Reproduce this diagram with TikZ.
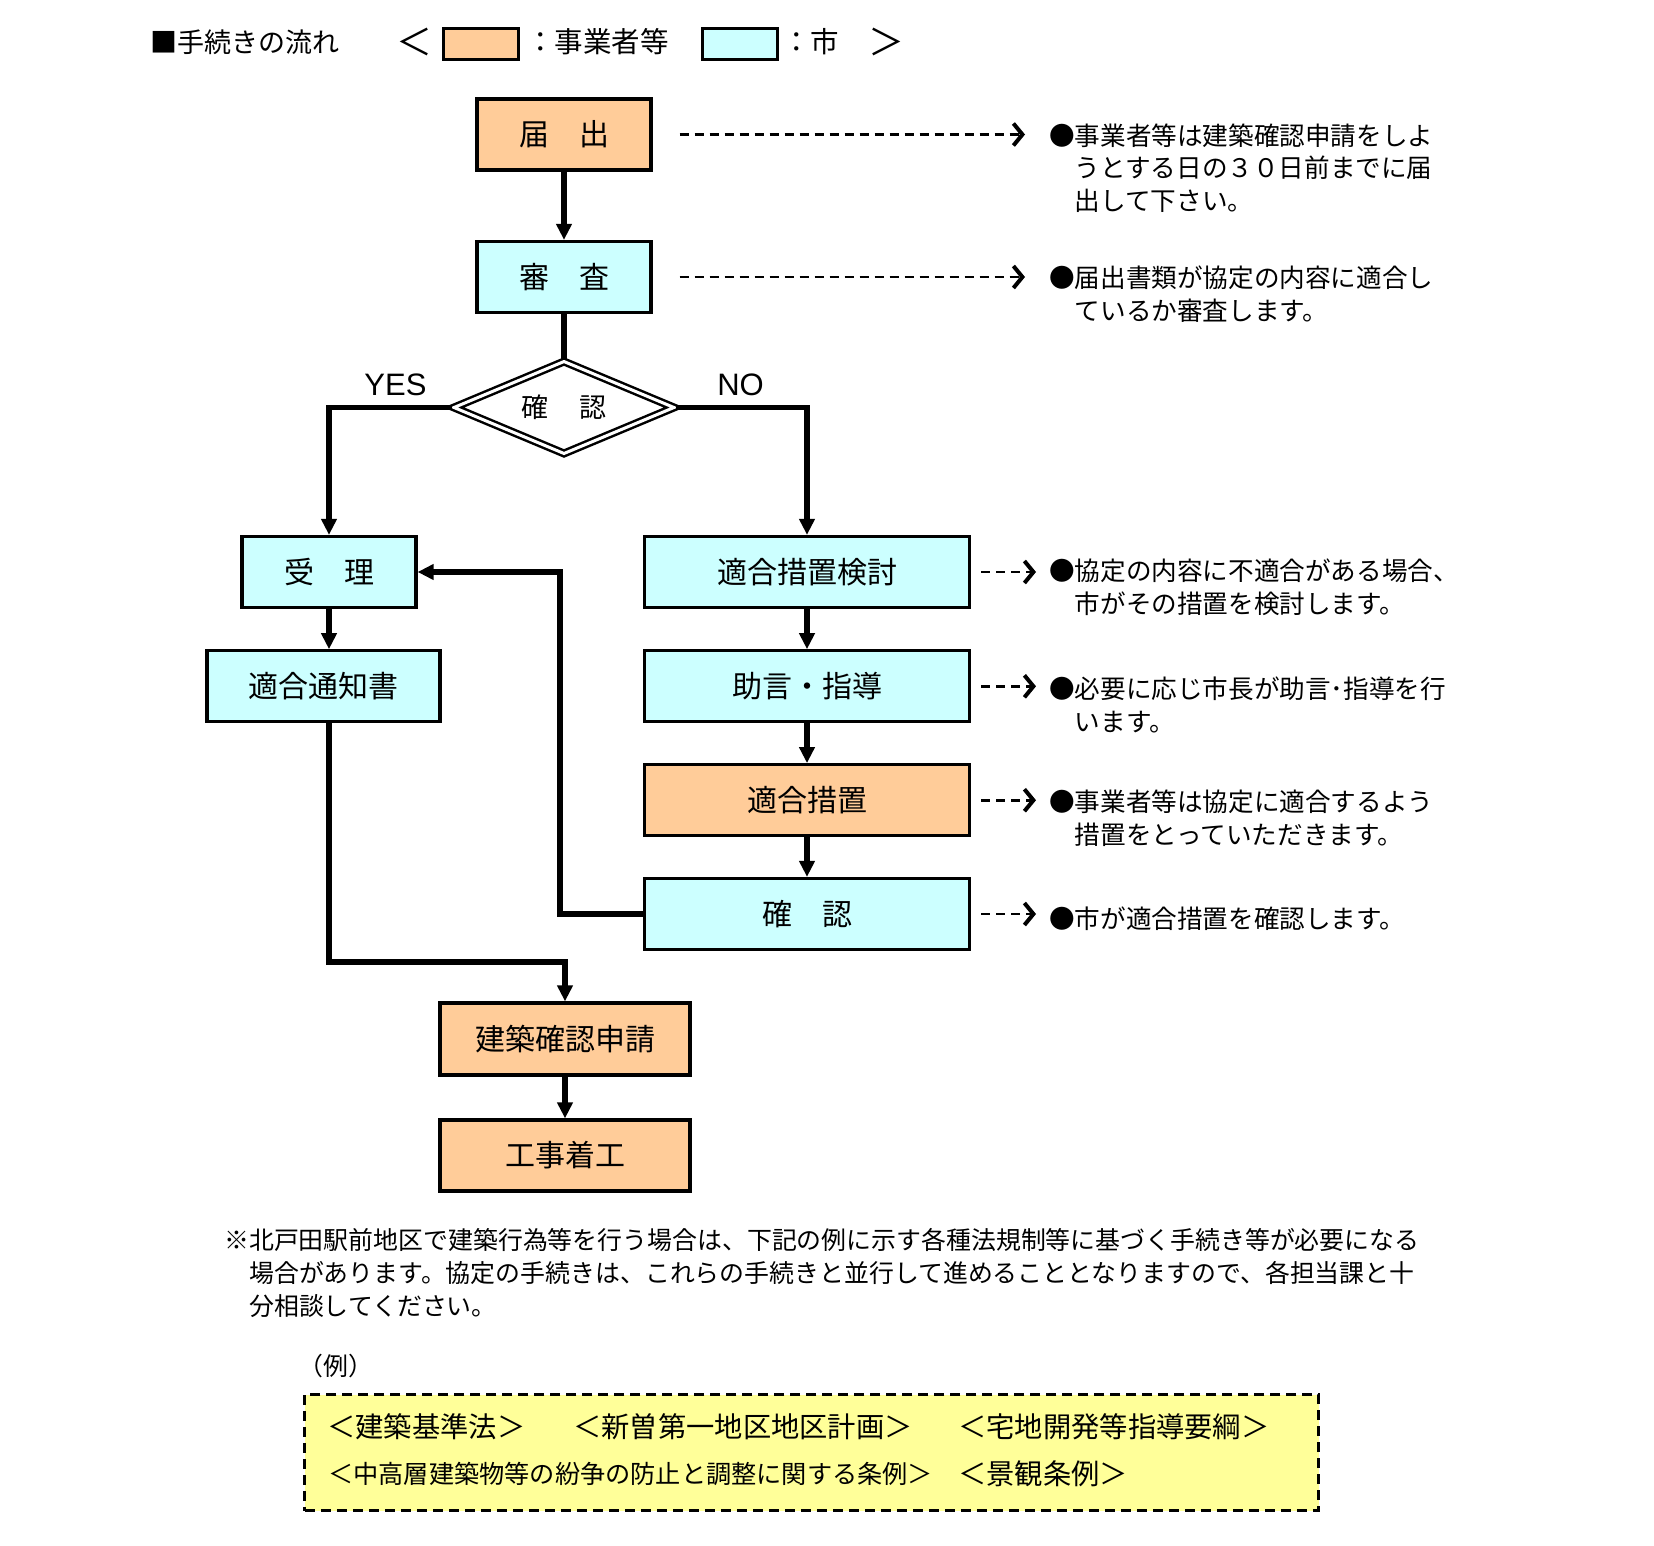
\documentclass[tikz,border=0pt]{standalone}
\usepackage{fontspec}
\setmainfont{Noto Sans CJK JP}
\newfontfamily\latinsans{Liberation Sans}
\usetikzlibrary{arrows.meta,shapes.geometric,calc}
\definecolor{bizorange}{RGB}{255,204,153}
\definecolor{citycyan}{RGB}{204,255,255}
\definecolor{noteyellow}{RGB}{255,255,153}
\begin{document}
\begin{tikzpicture}[x=1pt,y=-1pt,
  flowbox/.style={draw, line width=3.2pt, inner sep=0pt, minimum height=71pt, font=\fontsize{30}{36}\selectfont},
  biz/.style={flowbox, fill=bizorange},
  city/.style={flowbox, fill=citycyan},
  conn/.style={line width=5.2pt},
  arr/.style={conn, -{Triangle[length=16pt,width=15pt]}},
  darr/.style={line width=2.9pt, dash pattern=on 9pt off 6pt, -{Straight Barb[length=9pt,width=22pt,line width=4pt]}},
  desc/.style={anchor=base west, inner sep=0pt, font=\fontsize{25.6}{30}\selectfont},
  hdr/.style={anchor=base west, inner sep=0pt, font=\fontsize{27}{32}\selectfont},
  hdrleg/.style={anchor=base west, inner sep=0pt, font=\fontsize{28.5}{32}\selectfont},
  hdrc/.style={anchor=center, inner sep=0pt, font=\fontsize{36}{40}\selectfont},
  notetxt/.style={anchor=base west, inner sep=0pt, font=\fontsize{24.9}{30}\selectfont},
  itema/.style={anchor=base west, inner sep=0pt, font=\fontsize{28.3}{32}\selectfont},
  itemb/.style={anchor=base west, inner sep=0pt, font=\fontsize{25.2}{30}\selectfont},
  yesno/.style={anchor=center, inner sep=0pt, font=\latinsans\fontsize{31}{36}\selectfont},
  legbox/.style={draw, line width=3pt, minimum width=75pt, minimum height=30.5pt, inner sep=0pt}
]
\useasboundingbox (0,0) rectangle (1654,1545);

% header
\node[hdr] (h1) at (150,52) {■手続きの流れ};
\node[hdrc] (h2) at (414.5,42) {＜};
\node[legbox, fill=bizorange] (lg1) at (480.5,43.75) {};
\node[hdrleg] (h3) at (526,52.5) {：事業者等};
\node[legbox, fill=citycyan] (lg2) at (739.5,43.75) {};
\node[hdrleg] (h4) at (782,52.5) {：市};
\node[hdrc] (h5) at (886,42) {＞};

% flow nodes
\node[biz, minimum width=174pt] (todoke) at (564,134.5) {届　出};
\node[city, minimum width=174pt] (shinsa) at (564,277) {審　査};
\node[diamond, shape aspect=2.3, draw, double, double distance=3pt, line width=2.5pt, fill=white,
      minimum width=221pt, minimum height=93pt, inner sep=0pt,
      font=\fontsize{27}{32}\selectfont] (dia) at (564,407.5) {確\hspace{31.5pt}認};
\node[yesno] (yes) at (395.5,385) {YES};
\node[yesno] (no) at (740.5,385) {NO};

\node[city, minimum width=174pt] (juri) at (329,572) {受　理};
\node[city, minimum width=233pt] (tsuchi) at (323.4,686.3) {適合通知書};

\node[city, minimum width=325pt] (k1) at (807,572) {適合措置検討};
\node[city, minimum width=325pt] (k2) at (807,686.3) {助言・指導};
\node[biz, minimum width=325pt] (k3) at (807,800.2) {適合措置};
\node[city, minimum width=325pt] (k4) at (807,914) {確　認};

\node[biz, minimum width=250pt, minimum height=72pt] (ken) at (565,1039) {建築確認申請};
\node[biz, minimum width=250pt] (koji) at (565,1155.5) {工事着工};

% descriptions
\node[desc] (d1a) at (1049,145) {●事業者等は建築確認申請をしよ};
\node[desc] (d1b) at (1049,177.7) {\phantom{●}うとする日の３０日前までに届};
\node[desc] (d1c) at (1049,210.4) {\phantom{●}出して下さい。};
\node[desc] (d2a) at (1049,287.5) {●届出書類が協定の内容に適合し};
\node[desc] (d2b) at (1049,320) {\phantom{●}ているか審査します。};
\node[desc] (d3a) at (1049,580.7) {●協定の内容に不適合がある場合、};
\node[desc] (d3b) at (1049,613.3) {\phantom{●}市がその措置を検討します。};
\node[desc] (d4a) at (1049,698.8) {●必要に応じ市長が助言･指導を行};
\node[desc] (d4b) at (1049,731.5) {\phantom{●}います。};
\node[desc] (d5a) at (1049,811.6) {●事業者等は協定に適合するよう};
\node[desc] (d5b) at (1049,844.3) {\phantom{●}措置をとっていただきます。};
\node[desc] (d6a) at (1049,928.7) {●市が適合措置を確認します。};

% connectors
\coordinate (fbx) at (560,572);
\coordinate (jy) at (329,962);
\draw[arr] (todoke) -- (shinsa);
\draw[conn] (shinsa) -- (dia);
\draw[arr] (dia.west) -| (juri.north);
\draw[arr] (dia.east) -| (k1.north);
\draw[arr] (juri.south) -- (juri.south |- tsuchi.north);
\draw[arr] (k1) -- (k2);
\draw[arr] (k2) -- (k3);
\draw[arr] (k3) -- (k4);
\draw[arr] (k4.west) -| (fbx) -- (juri.east);
\draw[arr] (juri.south |- tsuchi.south) -- (jy) -| (ken.north);
\draw[arr] (ken) -- (koji);

% dashed pointers
\draw[darr] ([xshift=27pt]todoke.east) -- ([xshift=-24pt]todoke.east -| d1a.west);
\draw[darr] ([xshift=27pt]shinsa.east) -- ([xshift=-24pt]shinsa.east -| d2a.west);
\draw[darr] ([xshift=10pt]k1.east) -- ([xshift=-13pt]k1.east -| d3a.west);
\draw[darr] ([xshift=10pt]k2.east) -- ([xshift=-13pt]k2.east -| d4a.west);
\draw[darr] ([xshift=10pt]k3.east) -- ([xshift=-13pt]k3.east -| d5a.west);
\draw[darr] ([xshift=10pt]k4.east) -- ([xshift=-13pt]k4.east -| d6a.west);

% note
\node[notetxt] (n1) at (224,1249.5) {※北戸田駅前地区で建築行為等を行う場合は、下記の例に示す各種法規制等に基づく手続き等が必要になる};
\node[notetxt] (n2) at (249,1282.5) {場合があります。協定の手続きは、これらの手続きと並行して進めることとなりますので、各担当課と十};
\node[notetxt] (n3) at (249,1315.5) {分相談してください。};

\node[notetxt] (ex) at (298,1375) {（例）};
\node[draw, line width=3pt, dash pattern=on 10pt off 6pt, fill=noteyellow,
      minimum width=1013.7pt, minimum height=116pt, inner sep=0pt] (ybox) at (811.7,1452.5) {};
\node[itema] (i1) at (327,1437) {＜建築基準法＞};
\node[itema] (i2) at (573,1437) {＜新曽第一地区地区計画＞};
\node[itema] (i3) at (958,1437) {＜宅地開発等指導要綱＞};
\node[itemb] (i4) at (328,1483.5) {＜中高層建築物等の紛争の防止と調整に関する条例＞};
\node[itema] (i5) at (958,1484) {＜景観条例＞};
\end{tikzpicture}
\end{document}
